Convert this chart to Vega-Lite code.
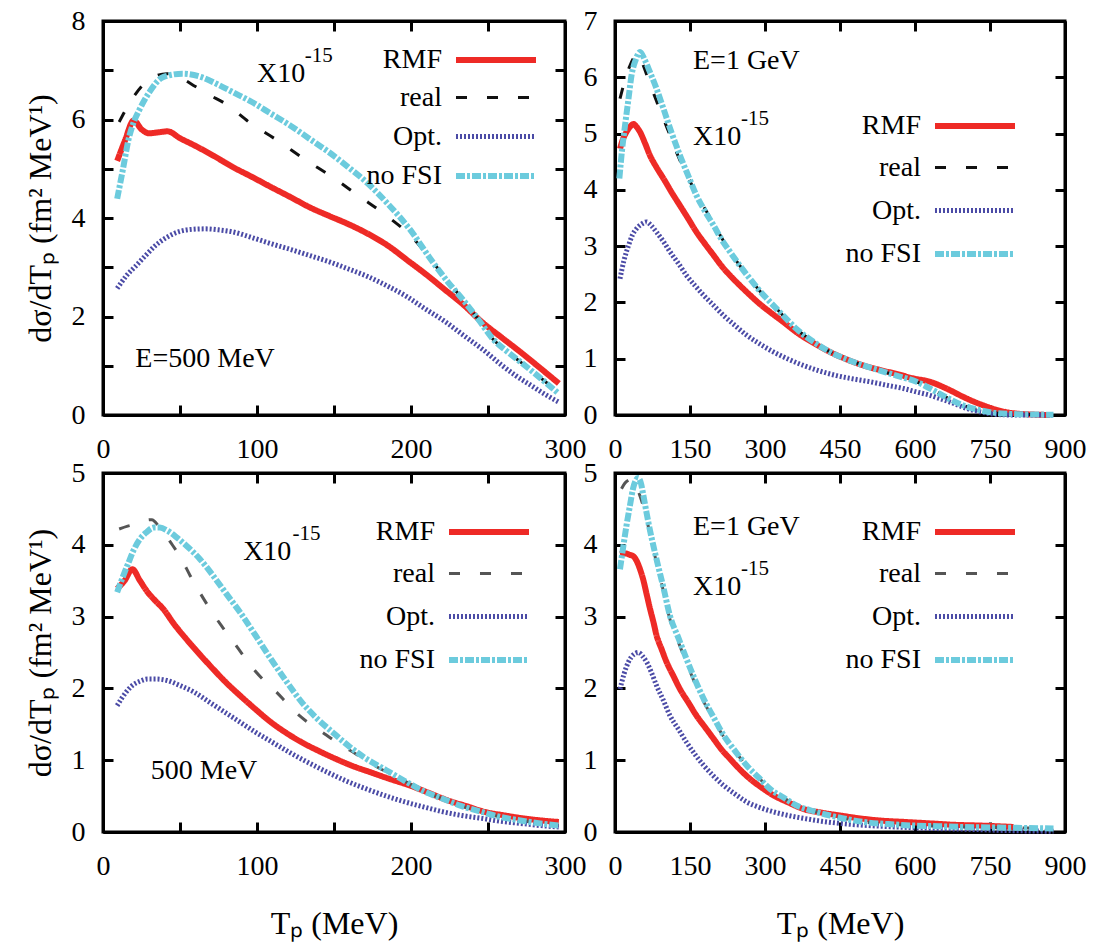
{
  "$schema": "https://vega.github.io/schema/vega-lite/v6.json",
  "background": "white",
  "padding": {"left": 22, "top": 5, "right": 5, "bottom": 5},
  "config": {
    "font": "Times New Roman, Liberation Serif, serif",
    "view": {"stroke": "black", "strokeWidth": 3},
    "axis": {
      "labelFont": "Times New Roman, Liberation Serif, serif", "labelFontSize": 28, "labelColor": "black",
      "tickColor": "black", "tickSize": -10, "tickWidth": 3,
      "domainColor": "black", "domainWidth": 3, "grid": false,
      "labelFlush": false, "labelOverlap": false, "labelBound": false,
      "titleFont": "Times New Roman, Liberation Serif, serif", "titleFontSize": 32, "titleFontWeight": "normal", "titleColor": "black"
    },
    "axisX": {"labelPadding": 30, "titlePadding": 28},
    "axisY": {"labelPadding": 28, "titlePadding": 14},
    "legend": {
      "title": null, "orient": "none", "symbolType": "M-2.667,0H2.667", "symbolSize": 900,
      "rowPadding": 11, "labelAlign": "right", "labelOffset": -72,
      "labelFont": "Times New Roman, Liberation Serif, serif", "labelFontSize": 28, "labelColor": "black",
      "symbolOffset": 0, "padding": 0, "labelLimit": 0
    },
    "line": {"interpolate": "monotone"},
    "text": {"font": "Times New Roman, Liberation Serif, serif", "color": "black"}
  },
  "bounds": "flush",
  "columns": 2,
  "spacing": {"row": 58, "column": 50},
  "resolve": {
    "scale": {"color": "independent", "strokeDash": "independent", "strokeWidth": "independent"},
    "legend": {"color": "independent", "strokeDash": "independent", "strokeWidth": "independent"}
  },
  "datasets": {
    "curves": [
      {"p":"TL","s":"RMF","x":9.2,"y":5.16},{"p":"TL","s":"RMF","x":14,"y":5.55},{"p":"TL","s":"RMF","x":20,"y":5.98},{"p":"TL","s":"RMF","x":25,"y":5.8},{"p":"TL","s":"RMF","x":30,"y":5.72},{"p":"TL","s":"RMF","x":36,"y":5.74},{"p":"TL","s":"RMF","x":42,"y":5.76},{"p":"TL","s":"RMF","x":50,"y":5.62},{"p":"TL","s":"RMF","x":59,"y":5.48},{"p":"TL","s":"RMF","x":72,"y":5.26},{"p":"TL","s":"RMF","x":84,"y":5.04},{"p":"TL","s":"RMF","x":97,"y":4.83},{"p":"TL","s":"RMF","x":109,"y":4.63},{"p":"TL","s":"RMF","x":122,"y":4.42},{"p":"TL","s":"RMF","x":134,"y":4.22},{"p":"TL","s":"RMF","x":147,"y":4.04},{"p":"TL","s":"RMF","x":159,"y":3.88},{"p":"TL","s":"RMF","x":172,"y":3.68},{"p":"TL","s":"RMF","x":184,"y":3.46},{"p":"TL","s":"RMF","x":199,"y":3.11},{"p":"TL","s":"RMF","x":210,"y":2.85},{"p":"TL","s":"RMF","x":221,"y":2.57},{"p":"TL","s":"RMF","x":234,"y":2.24},{"p":"TL","s":"RMF","x":246,"y":1.89},{"p":"TL","s":"RMF","x":259,"y":1.57},{"p":"TL","s":"RMF","x":271,"y":1.28},{"p":"TL","s":"RMF","x":284,"y":0.95},{"p":"TL","s":"RMF","x":296,"y":0.64},
      {"p":"TL","s":"real","x":10.5,"y":5.95},{"p":"TL","s":"real","x":17,"y":6.32},{"p":"TL","s":"real","x":25,"y":6.67},{"p":"TL","s":"real","x":33,"y":6.87},{"p":"TL","s":"real","x":41.6,"y":6.93},{"p":"TL","s":"real","x":50,"y":6.85},{"p":"TL","s":"real","x":60,"y":6.67},{"p":"TL","s":"real","x":69,"y":6.5},{"p":"TL","s":"real","x":79,"y":6.33},{"p":"TL","s":"real","x":96,"y":5.92},{"p":"TL","s":"real","x":114,"y":5.56},{"p":"TL","s":"real","x":131,"y":5.19},{"p":"TL","s":"real","x":149,"y":4.83},{"p":"TL","s":"real","x":166,"y":4.45},{"p":"TL","s":"real","x":184,"y":4.05},{"p":"TL","s":"real","x":201,"y":3.6},{"p":"TL","s":"real","x":215,"y":3.07},{"p":"TL","s":"real","x":225,"y":2.68},{"p":"TL","s":"real","x":234,"y":2.33},{"p":"TL","s":"real","x":244,"y":1.93},{"p":"TL","s":"real","x":253,"y":1.55},{"p":"TL","s":"real","x":262,"y":1.3},{"p":"TL","s":"real","x":271,"y":1.08},{"p":"TL","s":"real","x":284,"y":0.76},{"p":"TL","s":"real","x":296,"y":0.45},
      {"p":"TL","s":"Opt.","x":9.2,"y":2.57},{"p":"TL","s":"Opt.","x":15,"y":2.82},{"p":"TL","s":"Opt.","x":21.7,"y":3.04},{"p":"TL","s":"Opt.","x":28,"y":3.25},{"p":"TL","s":"Opt.","x":34,"y":3.44},{"p":"TL","s":"Opt.","x":41,"y":3.6},{"p":"TL","s":"Opt.","x":49,"y":3.72},{"p":"TL","s":"Opt.","x":58,"y":3.77},{"p":"TL","s":"Opt.","x":66.5,"y":3.78},{"p":"TL","s":"Opt.","x":75,"y":3.76},{"p":"TL","s":"Opt.","x":84,"y":3.72},{"p":"TL","s":"Opt.","x":97,"y":3.6},{"p":"TL","s":"Opt.","x":109,"y":3.48},{"p":"TL","s":"Opt.","x":122,"y":3.36},{"p":"TL","s":"Opt.","x":134,"y":3.24},{"p":"TL","s":"Opt.","x":147,"y":3.11},{"p":"TL","s":"Opt.","x":159,"y":2.97},{"p":"TL","s":"Opt.","x":172,"y":2.81},{"p":"TL","s":"Opt.","x":184,"y":2.63},{"p":"TL","s":"Opt.","x":197,"y":2.41},{"p":"TL","s":"Opt.","x":209,"y":2.16},{"p":"TL","s":"Opt.","x":222,"y":1.9},{"p":"TL","s":"Opt.","x":234,"y":1.62},{"p":"TL","s":"Opt.","x":247,"y":1.32},{"p":"TL","s":"Opt.","x":259,"y":1.01},{"p":"TL","s":"Opt.","x":268,"y":0.8},{"p":"TL","s":"Opt.","x":278,"y":0.6},{"p":"TL","s":"Opt.","x":287,"y":0.42},{"p":"TL","s":"Opt.","x":296,"y":0.26},
      {"p":"TL","s":"no FSI","x":9.2,"y":4.39},{"p":"TL","s":"no FSI","x":13,"y":5.0},{"p":"TL","s":"no FSI","x":16.7,"y":5.61},{"p":"TL","s":"no FSI","x":20,"y":5.95},{"p":"TL","s":"no FSI","x":24,"y":6.22},{"p":"TL","s":"no FSI","x":30,"y":6.55},{"p":"TL","s":"no FSI","x":39,"y":6.86},{"p":"TL","s":"no FSI","x":51.6,"y":6.93},{"p":"TL","s":"no FSI","x":64,"y":6.86},{"p":"TL","s":"no FSI","x":74,"y":6.72},{"p":"TL","s":"no FSI","x":84,"y":6.56},{"p":"TL","s":"no FSI","x":97,"y":6.35},{"p":"TL","s":"no FSI","x":109,"y":6.12},{"p":"TL","s":"no FSI","x":122,"y":5.87},{"p":"TL","s":"no FSI","x":134,"y":5.61},{"p":"TL","s":"no FSI","x":147,"y":5.33},{"p":"TL","s":"no FSI","x":159,"y":5.04},{"p":"TL","s":"no FSI","x":172,"y":4.7},{"p":"TL","s":"no FSI","x":184,"y":4.32},{"p":"TL","s":"no FSI","x":199,"y":3.78},{"p":"TL","s":"no FSI","x":214,"y":3.11},{"p":"TL","s":"no FSI","x":224,"y":2.7},{"p":"TL","s":"no FSI","x":234,"y":2.33},{"p":"TL","s":"no FSI","x":244,"y":1.93},{"p":"TL","s":"no FSI","x":253,"y":1.55},{"p":"TL","s":"no FSI","x":262,"y":1.3},{"p":"TL","s":"no FSI","x":271,"y":1.08},{"p":"TL","s":"no FSI","x":284,"y":0.75},{"p":"TL","s":"no FSI","x":296,"y":0.43},

      {"p":"TR","s":"RMF","x":10,"y":4.73},{"p":"TR","s":"RMF","x":16,"y":4.9},{"p":"TR","s":"RMF","x":23,"y":5.03},{"p":"TR","s":"RMF","x":30,"y":5.12},{"p":"TR","s":"RMF","x":37,"y":5.17},{"p":"TR","s":"RMF","x":43,"y":5.12},{"p":"TR","s":"RMF","x":50,"y":5.03},{"p":"TR","s":"RMF","x":60,"y":4.83},{"p":"TR","s":"RMF","x":70,"y":4.61},{"p":"TR","s":"RMF","x":83,"y":4.4},{"p":"TR","s":"RMF","x":97,"y":4.2},{"p":"TR","s":"RMF","x":113,"y":3.96},{"p":"TR","s":"RMF","x":130,"y":3.72},{"p":"TR","s":"RMF","x":147,"y":3.48},{"p":"TR","s":"RMF","x":163,"y":3.25},{"p":"TR","s":"RMF","x":180,"y":3.04},{"p":"TR","s":"RMF","x":197,"y":2.84},{"p":"TR","s":"RMF","x":213,"y":2.65},{"p":"TR","s":"RMF","x":230,"y":2.48},{"p":"TR","s":"RMF","x":250,"y":2.3},{"p":"TR","s":"RMF","x":270,"y":2.13},{"p":"TR","s":"RMF","x":290,"y":1.97},{"p":"TR","s":"RMF","x":310,"y":1.83},{"p":"TR","s":"RMF","x":337,"y":1.65},{"p":"TR","s":"RMF","x":363,"y":1.47},{"p":"TR","s":"RMF","x":397,"y":1.28},{"p":"TR","s":"RMF","x":430,"y":1.12},{"p":"TR","s":"RMF","x":463,"y":0.99},{"p":"TR","s":"RMF","x":497,"y":0.88},{"p":"TR","s":"RMF","x":530,"y":0.8},{"p":"TR","s":"RMF","x":563,"y":0.73},{"p":"TR","s":"RMF","x":597,"y":0.65},{"p":"TR","s":"RMF","x":630,"y":0.59},{"p":"TR","s":"RMF","x":663,"y":0.47},{"p":"TR","s":"RMF","x":697,"y":0.32},{"p":"TR","s":"RMF","x":717,"y":0.24},{"p":"TR","s":"RMF","x":737,"y":0.17},{"p":"TR","s":"RMF","x":760,"y":0.1},{"p":"TR","s":"RMF","x":783,"y":0.05},{"p":"TR","s":"RMF","x":810,"y":0.02},{"p":"TR","s":"RMF","x":830,"y":0.01},{"p":"TR","s":"RMF","x":870,"y":0.0},
      {"p":"TR","s":"real","x":10,"y":5.62},{"p":"TR","s":"real","x":20,"y":5.95},{"p":"TR","s":"real","x":30,"y":6.21},{"p":"TR","s":"real","x":40,"y":6.38},{"p":"TR","s":"real","x":47,"y":6.42},{"p":"TR","s":"real","x":57,"y":6.2},{"p":"TR","s":"real","x":70,"y":5.88},{"p":"TR","s":"real","x":83,"y":5.58},{"p":"TR","s":"real","x":97,"y":5.26},{"p":"TR","s":"real","x":110,"y":4.97},{"p":"TR","s":"real","x":123,"y":4.67},{"p":"TR","s":"real","x":140,"y":4.33},{"p":"TR","s":"real","x":157,"y":4.03},{"p":"TR","s":"real","x":173,"y":3.77},{"p":"TR","s":"real","x":190,"y":3.51},{"p":"TR","s":"real","x":210,"y":3.2},{"p":"TR","s":"real","x":230,"y":2.9},{"p":"TR","s":"real","x":250,"y":2.65},{"p":"TR","s":"real","x":270,"y":2.42},{"p":"TR","s":"real","x":290,"y":2.2},{"p":"TR","s":"real","x":310,"y":2.01},{"p":"TR","s":"real","x":337,"y":1.76},{"p":"TR","s":"real","x":363,"y":1.53},{"p":"TR","s":"real","x":397,"y":1.3},{"p":"TR","s":"real","x":430,"y":1.12},{"p":"TR","s":"real","x":463,"y":0.99},{"p":"TR","s":"real","x":497,"y":0.88},{"p":"TR","s":"real","x":530,"y":0.79},{"p":"TR","s":"real","x":563,"y":0.7},{"p":"TR","s":"real","x":603,"y":0.59},{"p":"TR","s":"real","x":643,"y":0.41},{"p":"TR","s":"real","x":670,"y":0.28},{"p":"TR","s":"real","x":697,"y":0.17},{"p":"TR","s":"real","x":723,"y":0.1},{"p":"TR","s":"real","x":750,"y":0.05},{"p":"TR","s":"real","x":790,"y":0.02},{"p":"TR","s":"real","x":830,"y":0.01},{"p":"TR","s":"real","x":877,"y":0.005},
      {"p":"TR","s":"Opt.","x":10,"y":2.42},{"p":"TR","s":"Opt.","x":18,"y":2.75},{"p":"TR","s":"Opt.","x":27,"y":3.01},{"p":"TR","s":"Opt.","x":35,"y":3.2},{"p":"TR","s":"Opt.","x":43,"y":3.31},{"p":"TR","s":"Opt.","x":53,"y":3.39},{"p":"TR","s":"Opt.","x":63,"y":3.43},{"p":"TR","s":"Opt.","x":73,"y":3.36},{"p":"TR","s":"Opt.","x":83,"y":3.25},{"p":"TR","s":"Opt.","x":97,"y":3.08},{"p":"TR","s":"Opt.","x":110,"y":2.9},{"p":"TR","s":"Opt.","x":127,"y":2.69},{"p":"TR","s":"Opt.","x":143,"y":2.48},{"p":"TR","s":"Opt.","x":160,"y":2.3},{"p":"TR","s":"Opt.","x":177,"y":2.13},{"p":"TR","s":"Opt.","x":197,"y":1.95},{"p":"TR","s":"Opt.","x":217,"y":1.77},{"p":"TR","s":"Opt.","x":240,"y":1.59},{"p":"TR","s":"Opt.","x":263,"y":1.42},{"p":"TR","s":"Opt.","x":290,"y":1.26},{"p":"TR","s":"Opt.","x":317,"y":1.12},{"p":"TR","s":"Opt.","x":347,"y":0.99},{"p":"TR","s":"Opt.","x":377,"y":0.88},{"p":"TR","s":"Opt.","x":410,"y":0.78},{"p":"TR","s":"Opt.","x":443,"y":0.7},{"p":"TR","s":"Opt.","x":477,"y":0.64},{"p":"TR","s":"Opt.","x":510,"y":0.59},{"p":"TR","s":"Opt.","x":543,"y":0.53},{"p":"TR","s":"Opt.","x":577,"y":0.47},{"p":"TR","s":"Opt.","x":603,"y":0.41},{"p":"TR","s":"Opt.","x":630,"y":0.35},{"p":"TR","s":"Opt.","x":650,"y":0.29},{"p":"TR","s":"Opt.","x":670,"y":0.23},{"p":"TR","s":"Opt.","x":693,"y":0.15},{"p":"TR","s":"Opt.","x":717,"y":0.08},{"p":"TR","s":"Opt.","x":740,"y":0.04},{"p":"TR","s":"Opt.","x":763,"y":0.01},{"p":"TR","s":"Opt.","x":800,"y":0.0},{"p":"TR","s":"Opt.","x":877,"y":0.0},
      {"p":"TR","s":"no FSI","x":8.7,"y":4.2},{"p":"TR","s":"no FSI","x":14,"y":4.7},{"p":"TR","s":"no FSI","x":20,"y":5.14},{"p":"TR","s":"no FSI","x":27,"y":5.62},{"p":"TR","s":"no FSI","x":33,"y":6.03},{"p":"TR","s":"no FSI","x":41,"y":6.3},{"p":"TR","s":"no FSI","x":50,"y":6.45},{"p":"TR","s":"no FSI","x":60,"y":6.3},{"p":"TR","s":"no FSI","x":70,"y":6.09},{"p":"TR","s":"no FSI","x":83,"y":5.8},{"p":"TR","s":"no FSI","x":97,"y":5.44},{"p":"TR","s":"no FSI","x":113,"y":5.02},{"p":"TR","s":"no FSI","x":130,"y":4.61},{"p":"TR","s":"no FSI","x":147,"y":4.24},{"p":"TR","s":"no FSI","x":163,"y":3.9},{"p":"TR","s":"no FSI","x":180,"y":3.62},{"p":"TR","s":"no FSI","x":197,"y":3.37},{"p":"TR","s":"no FSI","x":213,"y":3.12},{"p":"TR","s":"no FSI","x":230,"y":2.9},{"p":"TR","s":"no FSI","x":250,"y":2.65},{"p":"TR","s":"no FSI","x":270,"y":2.42},{"p":"TR","s":"no FSI","x":290,"y":2.2},{"p":"TR","s":"no FSI","x":310,"y":2.01},{"p":"TR","s":"no FSI","x":337,"y":1.76},{"p":"TR","s":"no FSI","x":363,"y":1.53},{"p":"TR","s":"no FSI","x":397,"y":1.3},{"p":"TR","s":"no FSI","x":430,"y":1.12},{"p":"TR","s":"no FSI","x":463,"y":0.99},{"p":"TR","s":"no FSI","x":497,"y":0.88},{"p":"TR","s":"no FSI","x":530,"y":0.79},{"p":"TR","s":"no FSI","x":563,"y":0.7},{"p":"TR","s":"no FSI","x":603,"y":0.59},{"p":"TR","s":"no FSI","x":643,"y":0.41},{"p":"TR","s":"no FSI","x":670,"y":0.28},{"p":"TR","s":"no FSI","x":697,"y":0.17},{"p":"TR","s":"no FSI","x":723,"y":0.1},{"p":"TR","s":"no FSI","x":750,"y":0.05},{"p":"TR","s":"no FSI","x":790,"y":0.02},{"p":"TR","s":"no FSI","x":830,"y":0.01},{"p":"TR","s":"no FSI","x":877,"y":0.005},

      {"p":"BL","s":"RMF","x":9.2,"y":3.39},{"p":"BL","s":"RMF","x":14,"y":3.5},{"p":"BL","s":"RMF","x":19,"y":3.66},{"p":"BL","s":"RMF","x":24,"y":3.5},{"p":"BL","s":"RMF","x":29,"y":3.34},{"p":"BL","s":"RMF","x":34,"y":3.22},{"p":"BL","s":"RMF","x":39,"y":3.11},{"p":"BL","s":"RMF","x":46,"y":2.9},{"p":"BL","s":"RMF","x":54,"y":2.69},{"p":"BL","s":"RMF","x":63,"y":2.47},{"p":"BL","s":"RMF","x":71.5,"y":2.27},{"p":"BL","s":"RMF","x":80,"y":2.08},{"p":"BL","s":"RMF","x":89,"y":1.9},{"p":"BL","s":"RMF","x":99,"y":1.71},{"p":"BL","s":"RMF","x":109,"y":1.53},{"p":"BL","s":"RMF","x":119,"y":1.38},{"p":"BL","s":"RMF","x":129,"y":1.25},{"p":"BL","s":"RMF","x":140,"y":1.13},{"p":"BL","s":"RMF","x":151,"y":1.02},{"p":"BL","s":"RMF","x":162,"y":0.92},{"p":"BL","s":"RMF","x":174,"y":0.83},{"p":"BL","s":"RMF","x":186,"y":0.74},{"p":"BL","s":"RMF","x":199,"y":0.65},{"p":"BL","s":"RMF","x":211,"y":0.55},{"p":"BL","s":"RMF","x":224,"y":0.44},{"p":"BL","s":"RMF","x":236,"y":0.36},{"p":"BL","s":"RMF","x":248,"y":0.28},{"p":"BL","s":"RMF","x":261,"y":0.23},{"p":"BL","s":"RMF","x":273,"y":0.19},{"p":"BL","s":"RMF","x":285,"y":0.16},{"p":"BL","s":"RMF","x":296,"y":0.14},
      {"p":"BL","s":"real","x":10.5,"y":4.22},{"p":"BL","s":"real","x":16,"y":4.26},{"p":"BL","s":"real","x":21.7,"y":4.29},{"p":"BL","s":"real","x":26,"y":4.33},{"p":"BL","s":"real","x":31.6,"y":4.35},{"p":"BL","s":"real","x":38,"y":4.2},{"p":"BL","s":"real","x":45.3,"y":3.99},{"p":"BL","s":"real","x":51,"y":3.8},{"p":"BL","s":"real","x":56.6,"y":3.57},{"p":"BL","s":"real","x":63,"y":3.33},{"p":"BL","s":"real","x":70.3,"y":3.08},{"p":"BL","s":"real","x":77,"y":2.87},{"p":"BL","s":"real","x":84,"y":2.67},{"p":"BL","s":"real","x":91,"y":2.46},{"p":"BL","s":"real","x":97.7,"y":2.27},{"p":"BL","s":"real","x":105,"y":2.1},{"p":"BL","s":"real","x":112.6,"y":1.95},{"p":"BL","s":"real","x":120,"y":1.78},{"p":"BL","s":"real","x":127.6,"y":1.62},{"p":"BL","s":"real","x":136,"y":1.48},{"p":"BL","s":"real","x":145,"y":1.35},{"p":"BL","s":"real","x":153,"y":1.23},{"p":"BL","s":"real","x":162.5,"y":1.11},{"p":"BL","s":"real","x":172,"y":0.98},{"p":"BL","s":"real","x":181,"y":0.87},{"p":"BL","s":"real","x":196,"y":0.71},{"p":"BL","s":"real","x":208,"y":0.57},{"p":"BL","s":"real","x":221,"y":0.46},{"p":"BL","s":"real","x":233,"y":0.36},{"p":"BL","s":"real","x":246,"y":0.28},{"p":"BL","s":"real","x":258,"y":0.21},{"p":"BL","s":"real","x":271,"y":0.16},{"p":"BL","s":"real","x":284,"y":0.12},{"p":"BL","s":"real","x":296,"y":0.09},
      {"p":"BL","s":"Opt.","x":9.2,"y":1.76},{"p":"BL","s":"Opt.","x":14,"y":1.92},{"p":"BL","s":"Opt.","x":19,"y":2.04},{"p":"BL","s":"Opt.","x":24,"y":2.1},{"p":"BL","s":"Opt.","x":29,"y":2.13},{"p":"BL","s":"Opt.","x":35,"y":2.13},{"p":"BL","s":"Opt.","x":41.6,"y":2.11},{"p":"BL","s":"Opt.","x":50,"y":2.04},{"p":"BL","s":"Opt.","x":59,"y":1.95},{"p":"BL","s":"Opt.","x":69,"y":1.81},{"p":"BL","s":"Opt.","x":79,"y":1.67},{"p":"BL","s":"Opt.","x":89,"y":1.53},{"p":"BL","s":"Opt.","x":99,"y":1.39},{"p":"BL","s":"Opt.","x":110,"y":1.25},{"p":"BL","s":"Opt.","x":121,"y":1.11},{"p":"BL","s":"Opt.","x":133,"y":0.97},{"p":"BL","s":"Opt.","x":146,"y":0.83},{"p":"BL","s":"Opt.","x":158,"y":0.71},{"p":"BL","s":"Opt.","x":171,"y":0.6},{"p":"BL","s":"Opt.","x":184,"y":0.5},{"p":"BL","s":"Opt.","x":196,"y":0.42},{"p":"BL","s":"Opt.","x":208,"y":0.35},{"p":"BL","s":"Opt.","x":221,"y":0.28},{"p":"BL","s":"Opt.","x":233,"y":0.23},{"p":"BL","s":"Opt.","x":246,"y":0.19},{"p":"BL","s":"Opt.","x":258,"y":0.15},{"p":"BL","s":"Opt.","x":271,"y":0.12},{"p":"BL","s":"Opt.","x":284,"y":0.09},{"p":"BL","s":"Opt.","x":296,"y":0.07},
      {"p":"BL","s":"no FSI","x":9.2,"y":3.34},{"p":"BL","s":"no FSI","x":13,"y":3.56},{"p":"BL","s":"no FSI","x":16.7,"y":3.76},{"p":"BL","s":"no FSI","x":20,"y":3.93},{"p":"BL","s":"no FSI","x":24,"y":4.08},{"p":"BL","s":"no FSI","x":28,"y":4.17},{"p":"BL","s":"no FSI","x":33,"y":4.24},{"p":"BL","s":"no FSI","x":37,"y":4.24},{"p":"BL","s":"no FSI","x":41.6,"y":4.2},{"p":"BL","s":"no FSI","x":48,"y":4.1},{"p":"BL","s":"no FSI","x":54,"y":3.99},{"p":"BL","s":"no FSI","x":63,"y":3.8},{"p":"BL","s":"no FSI","x":71.5,"y":3.57},{"p":"BL","s":"no FSI","x":80,"y":3.32},{"p":"BL","s":"no FSI","x":89,"y":3.06},{"p":"BL","s":"no FSI","x":99,"y":2.74},{"p":"BL","s":"no FSI","x":109,"y":2.41},{"p":"BL","s":"no FSI","x":119,"y":2.1},{"p":"BL","s":"no FSI","x":129,"y":1.81},{"p":"BL","s":"no FSI","x":139,"y":1.58},{"p":"BL","s":"no FSI","x":149,"y":1.39},{"p":"BL","s":"no FSI","x":160,"y":1.19},{"p":"BL","s":"no FSI","x":171,"y":1.02},{"p":"BL","s":"no FSI","x":184,"y":0.86},{"p":"BL","s":"no FSI","x":196,"y":0.71},{"p":"BL","s":"no FSI","x":208,"y":0.57},{"p":"BL","s":"no FSI","x":221,"y":0.46},{"p":"BL","s":"no FSI","x":233,"y":0.36},{"p":"BL","s":"no FSI","x":246,"y":0.28},{"p":"BL","s":"no FSI","x":258,"y":0.21},{"p":"BL","s":"no FSI","x":271,"y":0.16},{"p":"BL","s":"no FSI","x":284,"y":0.12},{"p":"BL","s":"no FSI","x":296,"y":0.09},

      {"p":"BR","s":"RMF","x":10,"y":3.87},{"p":"BR","s":"RMF","x":20,"y":3.88},{"p":"BR","s":"RMF","x":30,"y":3.86},{"p":"BR","s":"RMF","x":37,"y":3.84},{"p":"BR","s":"RMF","x":43,"y":3.78},{"p":"BR","s":"RMF","x":50,"y":3.66},{"p":"BR","s":"RMF","x":57,"y":3.5},{"p":"BR","s":"RMF","x":63,"y":3.32},{"p":"BR","s":"RMF","x":70,"y":3.11},{"p":"BR","s":"RMF","x":77,"y":2.92},{"p":"BR","s":"RMF","x":83,"y":2.74},{"p":"BR","s":"RMF","x":93,"y":2.55},{"p":"BR","s":"RMF","x":103,"y":2.37},{"p":"BR","s":"RMF","x":117,"y":2.17},{"p":"BR","s":"RMF","x":130,"y":1.99},{"p":"BR","s":"RMF","x":147,"y":1.8},{"p":"BR","s":"RMF","x":163,"y":1.62},{"p":"BR","s":"RMF","x":180,"y":1.46},{"p":"BR","s":"RMF","x":197,"y":1.3},{"p":"BR","s":"RMF","x":213,"y":1.15},{"p":"BR","s":"RMF","x":230,"y":1.02},{"p":"BR","s":"RMF","x":250,"y":0.87},{"p":"BR","s":"RMF","x":270,"y":0.74},{"p":"BR","s":"RMF","x":293,"y":0.62},{"p":"BR","s":"RMF","x":317,"y":0.51},{"p":"BR","s":"RMF","x":347,"y":0.41},{"p":"BR","s":"RMF","x":377,"y":0.32},{"p":"BR","s":"RMF","x":413,"y":0.27},{"p":"BR","s":"RMF","x":450,"y":0.23},{"p":"BR","s":"RMF","x":490,"y":0.19},{"p":"BR","s":"RMF","x":530,"y":0.16},{"p":"BR","s":"RMF","x":580,"y":0.14},{"p":"BR","s":"RMF","x":630,"y":0.12},{"p":"BR","s":"RMF","x":680,"y":0.1},{"p":"BR","s":"RMF","x":730,"y":0.09},{"p":"BR","s":"RMF","x":797,"y":0.07},
      {"p":"BR","s":"real","x":13,"y":4.78},{"p":"BR","s":"real","x":20,"y":4.86},{"p":"BR","s":"real","x":27,"y":4.9},{"p":"BR","s":"real","x":33,"y":4.92},{"p":"BR","s":"real","x":40,"y":4.85},{"p":"BR","s":"real","x":50,"y":4.68},{"p":"BR","s":"real","x":60,"y":4.45},{"p":"BR","s":"real","x":70,"y":4.15},{"p":"BR","s":"real","x":83,"y":3.75},{"p":"BR","s":"real","x":97,"y":3.35},{"p":"BR","s":"real","x":110,"y":2.96},{"p":"BR","s":"real","x":127,"y":2.64},{"p":"BR","s":"real","x":143,"y":2.36},{"p":"BR","s":"real","x":160,"y":2.07},{"p":"BR","s":"real","x":177,"y":1.82},{"p":"BR","s":"real","x":197,"y":1.57},{"p":"BR","s":"real","x":217,"y":1.33},{"p":"BR","s":"real","x":240,"y":1.12},{"p":"BR","s":"real","x":263,"y":0.93},{"p":"BR","s":"real","x":287,"y":0.76},{"p":"BR","s":"real","x":310,"y":0.6},{"p":"BR","s":"real","x":337,"y":0.48},{"p":"BR","s":"real","x":363,"y":0.37},{"p":"BR","s":"real","x":397,"y":0.29},{"p":"BR","s":"real","x":430,"y":0.23},{"p":"BR","s":"real","x":463,"y":0.18},{"p":"BR","s":"real","x":497,"y":0.14},{"p":"BR","s":"real","x":547,"y":0.11},{"p":"BR","s":"real","x":597,"y":0.09},{"p":"BR","s":"real","x":647,"y":0.08},{"p":"BR","s":"real","x":697,"y":0.07},{"p":"BR","s":"real","x":787,"y":0.06},{"p":"BR","s":"real","x":877,"y":0.05},
      {"p":"BR","s":"Opt.","x":10,"y":1.99},{"p":"BR","s":"Opt.","x":18,"y":2.2},{"p":"BR","s":"Opt.","x":27,"y":2.37},{"p":"BR","s":"Opt.","x":37,"y":2.47},{"p":"BR","s":"Opt.","x":47,"y":2.5},{"p":"BR","s":"Opt.","x":55,"y":2.45},{"p":"BR","s":"Opt.","x":63,"y":2.37},{"p":"BR","s":"Opt.","x":73,"y":2.22},{"p":"BR","s":"Opt.","x":83,"y":2.04},{"p":"BR","s":"Opt.","x":97,"y":1.83},{"p":"BR","s":"Opt.","x":110,"y":1.62},{"p":"BR","s":"Opt.","x":127,"y":1.43},{"p":"BR","s":"Opt.","x":143,"y":1.25},{"p":"BR","s":"Opt.","x":160,"y":1.08},{"p":"BR","s":"Opt.","x":177,"y":0.93},{"p":"BR","s":"Opt.","x":197,"y":0.78},{"p":"BR","s":"Opt.","x":217,"y":0.65},{"p":"BR","s":"Opt.","x":240,"y":0.53},{"p":"BR","s":"Opt.","x":263,"y":0.42},{"p":"BR","s":"Opt.","x":290,"y":0.34},{"p":"BR","s":"Opt.","x":317,"y":0.28},{"p":"BR","s":"Opt.","x":347,"y":0.23},{"p":"BR","s":"Opt.","x":377,"y":0.19},{"p":"BR","s":"Opt.","x":413,"y":0.15},{"p":"BR","s":"Opt.","x":450,"y":0.12},{"p":"BR","s":"Opt.","x":507,"y":0.09},{"p":"BR","s":"Opt.","x":563,"y":0.07},{"p":"BR","s":"Opt.","x":630,"y":0.05},{"p":"BR","s":"Opt.","x":697,"y":0.04},{"p":"BR","s":"Opt.","x":787,"y":0.02},{"p":"BR","s":"Opt.","x":877,"y":0.01},
      {"p":"BR","s":"no FSI","x":10,"y":3.66},{"p":"BR","s":"no FSI","x":16,"y":3.95},{"p":"BR","s":"no FSI","x":23,"y":4.27},{"p":"BR","s":"no FSI","x":30,"y":4.55},{"p":"BR","s":"no FSI","x":36,"y":4.78},{"p":"BR","s":"no FSI","x":41,"y":4.89},{"p":"BR","s":"no FSI","x":46,"y":4.93},{"p":"BR","s":"no FSI","x":51,"y":4.88},{"p":"BR","s":"no FSI","x":57,"y":4.68},{"p":"BR","s":"no FSI","x":63,"y":4.45},{"p":"BR","s":"no FSI","x":70,"y":4.2},{"p":"BR","s":"no FSI","x":77,"y":3.98},{"p":"BR","s":"no FSI","x":83,"y":3.8},{"p":"BR","s":"no FSI","x":97,"y":3.4},{"p":"BR","s":"no FSI","x":110,"y":3.01},{"p":"BR","s":"no FSI","x":127,"y":2.7},{"p":"BR","s":"no FSI","x":143,"y":2.41},{"p":"BR","s":"no FSI","x":160,"y":2.12},{"p":"BR","s":"no FSI","x":177,"y":1.86},{"p":"BR","s":"no FSI","x":197,"y":1.6},{"p":"BR","s":"no FSI","x":217,"y":1.35},{"p":"BR","s":"no FSI","x":240,"y":1.13},{"p":"BR","s":"no FSI","x":263,"y":0.93},{"p":"BR","s":"no FSI","x":287,"y":0.76},{"p":"BR","s":"no FSI","x":310,"y":0.6},{"p":"BR","s":"no FSI","x":337,"y":0.48},{"p":"BR","s":"no FSI","x":363,"y":0.37},{"p":"BR","s":"no FSI","x":397,"y":0.29},{"p":"BR","s":"no FSI","x":430,"y":0.23},{"p":"BR","s":"no FSI","x":463,"y":0.18},{"p":"BR","s":"no FSI","x":497,"y":0.14},{"p":"BR","s":"no FSI","x":547,"y":0.11},{"p":"BR","s":"no FSI","x":597,"y":0.09},{"p":"BR","s":"no FSI","x":647,"y":0.08},{"p":"BR","s":"no FSI","x":697,"y":0.07},{"p":"BR","s":"no FSI","x":787,"y":0.06},{"p":"BR","s":"no FSI","x":877,"y":0.05}
    ]
  },
  "concat": [
    {
      "width": 462, "height": 394,
      "layer": [
        {
          "data": {"name": "curves"},
          "transform": [{"filter": "datum.p == 'TL'"}],
          "mark": {"type": "line"},
          "encoding": {
            "x": {"field": "x", "type": "quantitative", "scale": {"domain": [0, 300], "nice": false}, "axis": {"title": null, "values": [0, 50, 100, 150, 200, 250, 300], "labelExpr": "datum.value % 100 == 0 ? datum.label : ''"}},
            "y": {"field": "y", "type": "quantitative", "scale": {"domain": [0, 8], "nice": false}, "axis": {"title": "dσ/dTₚ (fm² MeV¹)", "values": [0, 1, 2, 3, 4, 5, 6, 7, 8], "labelExpr": "datum.value % 2 == 0 ? datum.label : ''"}},
            "color": {"field": "s", "type": "nominal", "scale": {"domain": ["RMF", "real", "Opt.", "no FSI"], "range": ["#ee2a26", "#111111", "#4b4ba6", "#6ccbdd"]}, "legend": {"legendX": 375, "legendY": 21, "rowPadding": 7}},
            "strokeDash": {"field": "s", "type": "nominal", "scale": {"domain": ["RMF", "real", "Opt.", "no FSI"], "range": [[1, 0], [11, 20], [2, 2], [9, 2, 3, 2]]}, "legend": {"legendX": 375, "legendY": 21, "rowPadding": 7}},
            "strokeWidth": {"field": "s", "type": "nominal", "scale": {"type": "ordinal", "domain": ["RMF", "real", "Opt.", "no FSI"], "range": [6, 3, 5, 6]}, "legend": {"legendX": 375, "legendY": 21, "rowPadding": 7}}
          }
        },
        {
          "data": {"name": "curves"},
          "transform": [{"filter": "datum.p == 'TL'"}],
          "mark": {"type": "line", "opacity": 0},
          "encoding": {
            "x": {"field": "x", "type": "quantitative", "axis": {"orient": "top", "labels": false, "title": null, "values": [0, 50, 100, 150, 200, 250, 300]}},
            "y": {"field": "y", "type": "quantitative", "axis": {"orient": "right", "labels": false, "title": null, "values": [0, 1, 2, 3, 4, 5, 6, 7, 8]}}
          }
        },
        {"data": {"values": [{}]}, "mark": {"type": "text", "text": "X10", "fontSize": 28, "align": "left", "baseline": "alphabetic"}, "encoding": {"x": {"datum": 100, "type": "quantitative", "axis": null}, "y": {"datum": 6.76, "type": "quantitative", "axis": null}}},
        {"data": {"values": [{}]}, "mark": {"type": "text", "text": "-15", "fontSize": 21, "align": "left", "baseline": "alphabetic"}, "encoding": {"x": {"datum": 131, "type": "quantitative", "axis": null}, "y": {"datum": 7.17, "type": "quantitative", "axis": null}}},
        {"data": {"values": [{}]}, "mark": {"type": "text", "text": "E=500 MeV", "fontSize": 28, "align": "left", "baseline": "alphabetic"}, "encoding": {"x": {"datum": 21, "type": "quantitative", "axis": null}, "y": {"datum": 0.97, "type": "quantitative", "axis": null}}}
      ],
      "resolve": {"axis": {"x": "independent", "y": "independent"}}
    },
    {
      "width": 450, "height": 394,
      "layer": [
        {
          "data": {"name": "curves"},
          "transform": [{"filter": "datum.p == 'TR'"}],
          "mark": {"type": "line"},
          "encoding": {
            "x": {"field": "x", "type": "quantitative", "scale": {"domain": [0, 900], "nice": false}, "axis": {"title": null, "values": [0, 150, 300, 450, 600, 750, 900]}},
            "y": {"field": "y", "type": "quantitative", "scale": {"domain": [0, 7], "nice": false}, "axis": {"title": null, "values": [0, 1, 2, 3, 4, 5, 6, 7]}},
            "color": {"field": "s", "type": "nominal", "scale": {"domain": ["RMF", "real", "Opt.", "no FSI"], "range": ["#ee2a26", "#111111", "#4b4ba6", "#6ccbdd"]}, "legend": {"legendX": 342, "legendY": 87}},
            "strokeDash": {"field": "s", "type": "nominal", "scale": {"domain": ["RMF", "real", "Opt.", "no FSI"], "range": [[1, 0], [11, 20], [2, 2], [9, 2, 3, 2]]}, "legend": {"legendX": 342, "legendY": 87}},
            "strokeWidth": {"field": "s", "type": "nominal", "scale": {"type": "ordinal", "domain": ["RMF", "real", "Opt.", "no FSI"], "range": [6, 3, 5, 6]}, "legend": {"legendX": 342, "legendY": 87}}
          }
        },
        {
          "data": {"name": "curves"},
          "transform": [{"filter": "datum.p == 'TR'"}],
          "mark": {"type": "line", "opacity": 0},
          "encoding": {
            "x": {"field": "x", "type": "quantitative", "axis": {"orient": "top", "labels": false, "title": null, "values": [0, 150, 300, 450, 600, 750, 900]}},
            "y": {"field": "y", "type": "quantitative", "axis": {"orient": "right", "labels": false, "title": null, "values": [0, 1, 2, 3, 4, 5, 6, 7]}}
          }
        },
        {"data": {"values": [{}]}, "mark": {"type": "text", "text": "E=1 GeV", "fontSize": 28, "align": "left", "baseline": "alphabetic"}, "encoding": {"x": {"datum": 156, "type": "quantitative", "axis": null}, "y": {"datum": 6.15, "type": "quantitative", "axis": null}}},
        {"data": {"values": [{}]}, "mark": {"type": "text", "text": "X10", "fontSize": 28, "align": "left", "baseline": "alphabetic"}, "encoding": {"x": {"datum": 156, "type": "quantitative", "axis": null}, "y": {"datum": 4.8, "type": "quantitative", "axis": null}}},
        {"data": {"values": [{}]}, "mark": {"type": "text", "text": "-15", "fontSize": 21, "align": "left", "baseline": "alphabetic"}, "encoding": {"x": {"datum": 252, "type": "quantitative", "axis": null}, "y": {"datum": 5.15, "type": "quantitative", "axis": null}}}
      ],
      "resolve": {"axis": {"x": "independent", "y": "independent"}}
    },
    {
      "width": 462, "height": 359,
      "layer": [
        {
          "data": {"name": "curves"},
          "transform": [{"filter": "datum.p == 'BL'"}],
          "mark": {"type": "line"},
          "encoding": {
            "x": {"field": "x", "type": "quantitative", "scale": {"domain": [0, 300], "nice": false}, "axis": {"title": "Tₚ (MeV)", "values": [0, 50, 100, 150, 200, 250, 300], "labelExpr": "datum.value % 100 == 0 ? datum.label : ''"}},
            "y": {"field": "y", "type": "quantitative", "scale": {"domain": [0, 5], "nice": false}, "axis": {"title": "dσ/dTₚ (fm² MeV¹)", "values": [0, 1, 2, 3, 4, 5]}},
            "color": {"field": "s", "type": "nominal", "scale": {"domain": ["RMF", "real", "Opt.", "no FSI"], "range": ["#ee2a26", "#555555", "#4b4ba6", "#6ccbdd"]}, "legend": {"legendX": 368, "legendY": 41}},
            "strokeDash": {"field": "s", "type": "nominal", "scale": {"domain": ["RMF", "real", "Opt.", "no FSI"], "range": [[1, 0], [11, 20], [2, 2], [9, 2, 3, 2]]}, "legend": {"legendX": 368, "legendY": 41}},
            "strokeWidth": {"field": "s", "type": "nominal", "scale": {"type": "ordinal", "domain": ["RMF", "real", "Opt.", "no FSI"], "range": [6, 3, 5, 6]}, "legend": {"legendX": 368, "legendY": 41}}
          }
        },
        {
          "data": {"name": "curves"},
          "transform": [{"filter": "datum.p == 'BL'"}],
          "mark": {"type": "line", "opacity": 0},
          "encoding": {
            "x": {"field": "x", "type": "quantitative", "axis": {"orient": "top", "labels": false, "title": null, "values": [0, 50, 100, 150, 200, 250, 300]}},
            "y": {"field": "y", "type": "quantitative", "axis": {"orient": "right", "labels": false, "title": null, "values": [0, 1, 2, 3, 4, 5]}}
          }
        },
        {"data": {"values": [{}]}, "mark": {"type": "text", "text": "X10", "fontSize": 28, "align": "left", "baseline": "alphabetic"}, "encoding": {"x": {"datum": 91, "type": "quantitative", "axis": null}, "y": {"datum": 3.79, "type": "quantitative", "axis": null}}},
        {"data": {"values": [{}]}, "mark": {"type": "text", "text": "-15", "fontSize": 21, "align": "left", "baseline": "alphabetic"}, "encoding": {"x": {"datum": 123, "type": "quantitative", "axis": null}, "y": {"datum": 4.07, "type": "quantitative", "axis": null}}},
        {"data": {"values": [{}]}, "mark": {"type": "text", "text": "500 MeV", "fontSize": 28, "align": "left", "baseline": "alphabetic"}, "encoding": {"x": {"datum": 31, "type": "quantitative", "axis": null}, "y": {"datum": 0.74, "type": "quantitative", "axis": null}}}
      ],
      "resolve": {"axis": {"x": "independent", "y": "independent"}}
    },
    {
      "width": 450, "height": 359,
      "layer": [
        {
          "data": {"name": "curves"},
          "transform": [{"filter": "datum.p == 'BR'"}],
          "mark": {"type": "line"},
          "encoding": {
            "x": {"field": "x", "type": "quantitative", "scale": {"domain": [0, 900], "nice": false}, "axis": {"title": "Tₚ (MeV)", "values": [0, 150, 300, 450, 600, 750, 900]}},
            "y": {"field": "y", "type": "quantitative", "scale": {"domain": [0, 5], "nice": false}, "axis": {"title": null, "values": [0, 1, 2, 3, 4, 5]}},
            "color": {"field": "s", "type": "nominal", "scale": {"domain": ["RMF", "real", "Opt.", "no FSI"], "range": ["#ee2a26", "#555555", "#4b4ba6", "#6ccbdd"]}, "legend": {"legendX": 342, "legendY": 41}},
            "strokeDash": {"field": "s", "type": "nominal", "scale": {"domain": ["RMF", "real", "Opt.", "no FSI"], "range": [[1, 0], [11, 20], [2, 2], [9, 2, 3, 2]]}, "legend": {"legendX": 342, "legendY": 41}},
            "strokeWidth": {"field": "s", "type": "nominal", "scale": {"type": "ordinal", "domain": ["RMF", "real", "Opt.", "no FSI"], "range": [6, 3, 5, 6]}, "legend": {"legendX": 342, "legendY": 41}}
          }
        },
        {
          "data": {"name": "curves"},
          "transform": [{"filter": "datum.p == 'BR'"}],
          "mark": {"type": "line", "opacity": 0},
          "encoding": {
            "x": {"field": "x", "type": "quantitative", "axis": {"orient": "top", "labels": false, "title": null, "values": [0, 150, 300, 450, 600, 750, 900]}},
            "y": {"field": "y", "type": "quantitative", "axis": {"orient": "right", "labels": false, "title": null, "values": [0, 1, 2, 3, 4, 5]}}
          }
        },
        {"data": {"values": [{}]}, "mark": {"type": "text", "text": "E=1 GeV", "fontSize": 28, "align": "left", "baseline": "alphabetic"}, "encoding": {"x": {"datum": 156, "type": "quantitative", "axis": null}, "y": {"datum": 4.14, "type": "quantitative", "axis": null}}},
        {"data": {"values": [{}]}, "mark": {"type": "text", "text": "X10", "fontSize": 28, "align": "left", "baseline": "alphabetic"}, "encoding": {"x": {"datum": 156, "type": "quantitative", "axis": null}, "y": {"datum": 3.3, "type": "quantitative", "axis": null}}},
        {"data": {"values": [{}]}, "mark": {"type": "text", "text": "-15", "fontSize": 21, "align": "left", "baseline": "alphabetic"}, "encoding": {"x": {"datum": 252, "type": "quantitative", "axis": null}, "y": {"datum": 3.58, "type": "quantitative", "axis": null}}}
      ],
      "resolve": {"axis": {"x": "independent", "y": "independent"}}
    }
  ]
}
